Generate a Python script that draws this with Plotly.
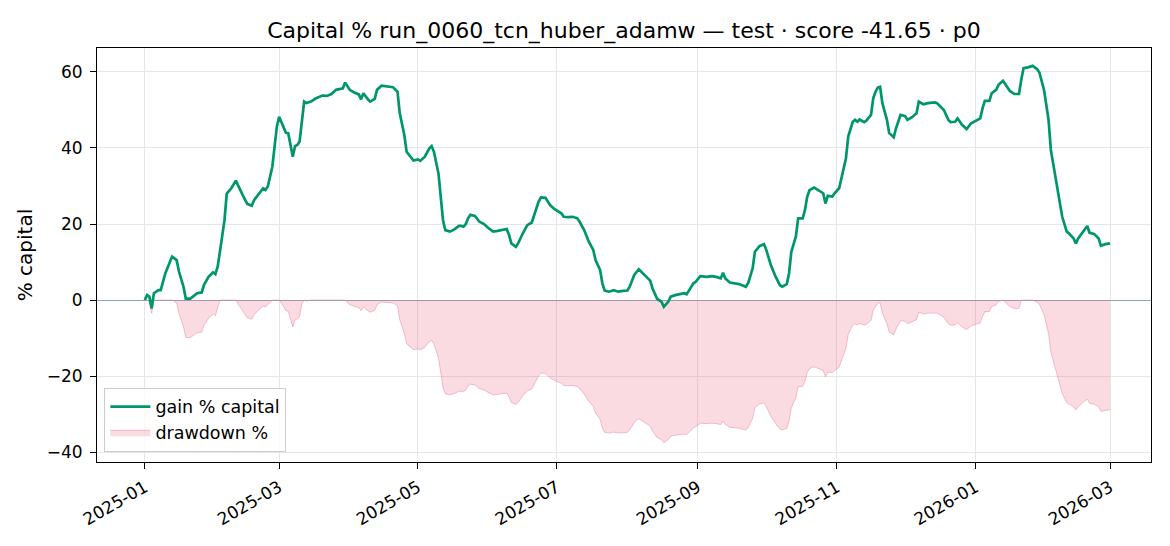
import pandas as pd
import plotly.graph_objects as go

# gain % capital (day offsets from 2025-01-01)
day = [0, 1, 2, 3, 4, 6, 7, 9, 11, 12, 14, 15, 17, 18, 20, 21, 23, 25, 26, 28,
       30, 31, 32, 33, 35, 36, 38, 40, 41, 43, 45, 47, 48, 50, 52, 53, 54, 56, 57, 58,
       59, 61, 62, 63, 64, 65, 66, 67, 68, 69, 70, 71, 73, 75, 78, 80, 82, 84, 87, 88,
       89, 90, 92, 94, 95, 96, 98, 99, 101, 102, 104, 106, 109, 111, 112, 114, 115, 117, 118, 120,
       121, 123, 124, 125, 126, 127, 129, 130, 131, 132, 134, 136, 138, 139, 140, 141, 142, 143, 145, 147,
       149, 151, 153, 155, 157, 159, 160, 161, 163, 164, 166, 168, 170, 171, 173, 174, 176, 178, 180, 183,
       184, 186, 188, 190, 191, 193, 195, 197, 198, 200, 201, 202, 204, 206, 208, 210, 212, 213, 215, 217,
       218, 220, 222, 223, 225, 227, 228, 230, 231, 233, 236, 237, 238, 239, 241, 242, 244, 247, 249, 251,
       253, 254, 255, 257, 259, 261, 264, 265, 267, 268, 270, 272, 273, 275, 277, 279, 280, 282, 283, 284,
       286, 287, 289, 290, 291, 292, 294, 296, 298, 299, 300, 302, 303, 305, 306, 308, 309, 311, 312, 313,
       314, 316, 317, 319, 320, 321, 322, 323, 324, 326, 327, 329, 330, 332, 334, 335, 337, 339, 340, 342,
       344, 347, 348, 350, 351, 353, 354, 356, 357, 359, 361, 363, 365, 367, 368, 369, 371, 372, 374, 375,
       377, 379, 380, 382, 384, 385, 386, 388, 390, 392, 393, 395, 397, 398, 400, 402, 403, 405, 406, 408,
       409, 410, 412, 414, 415, 417, 419, 420, 422, 424]
gain = [0.0, 1.3, 0.9, -2.2, 1.8, 2.6, 2.6, 7.0, 10.0, 11.4, 10.5, 7.5, 3.5, 0.4, 0.4, 0.9, 1.8, 2.0, 4.0, 6.1,
        7.3, 6.8, 8.8, 12.7, 21.0, 28.0, 29.4, 31.4, 30.0, 27.6, 25.3, 24.8, 26.3, 28.0, 29.4, 29.0, 29.8, 35.0, 40.4, 45.6,
        48.2, 45.6, 44.0, 43.9, 40.4, 37.7, 40.5, 40.8, 41.7, 46.7, 52.2, 51.8, 52.2, 53.0, 53.8, 53.7, 54.2, 55.3, 55.7, 57.2,
        56.1, 55.3, 54.6, 54.1, 52.8, 54.4, 52.8, 52.2, 52.9, 55.3, 56.4, 56.3, 56.0, 54.8, 49.1, 43.4, 39.0, 37.5, 36.7, 37.0,
        36.6, 37.7, 38.8, 39.9, 40.5, 39.0, 33.3, 27.2, 21.0, 18.4, 18.0, 18.6, 19.5, 19.5, 19.3, 20.0, 21.5, 22.4, 22.1, 20.6,
        20.0, 18.9, 18.0, 18.2, 18.4, 18.7, 17.1, 14.9, 14.0, 14.9, 17.5, 19.7, 20.4, 22.4, 25.9, 27.0, 26.9, 25.0, 23.9, 22.8,
        21.9, 21.8, 21.9, 21.5, 20.6, 18.4, 15.4, 13.2, 10.5, 7.9, 4.4, 2.5, 2.2, 2.6, 2.2, 2.4, 2.5, 3.5, 6.6, 8.1,
        7.5, 6.1, 5.1, 3.1, 0.4, -0.5, -1.8, -0.4, 0.9, 1.3, 1.8, 1.8, 1.5, 2.6, 4.4, 4.8, 6.3, 6.1, 6.3, 6.1,
        5.7, 7.2, 5.7, 4.6, 4.4, 4.2, 3.5, 4.4, 8.3, 12.7, 14.2, 14.7, 13.2, 9.2, 6.3, 3.9, 3.5, 4.2, 7.0, 12.7,
        16.7, 21.5, 21.5, 23.7, 27.2, 28.9, 29.6, 28.8, 28.1, 25.4, 27.4, 27.2, 28.1, 29.4, 32.0, 37.3, 43.0, 46.9, 47.4, 46.9,
        47.5, 46.8, 47.2, 48.7, 53.1, 54.8, 55.9, 56.1, 51.8, 47.4, 43.9, 42.8, 45.2, 48.7, 48.4, 47.4, 48.1, 49.1, 52.2, 51.5,
        51.8, 52.0, 51.8, 50.7, 50.0, 47.4, 46.8, 46.9, 47.8, 46.1, 45.0, 46.5, 47.2, 47.8, 50.4, 52.4, 52.4, 54.4, 55.3, 56.6,
        57.7, 55.7, 55.0, 54.2, 54.2, 57.9, 61.0, 61.2, 61.6, 60.7, 59.8, 55.3, 47.4, 39.5, 32.5, 25.4, 21.9, 18.0, 17.5, 16.2,
        14.9, 16.2, 18.0, 19.5, 17.7, 17.4, 16.2, 14.3, 14.7, 14.9]

y_ticks = [-40, -20, 0, 20, 40, 60]

dates = pd.Timestamp("2025-01-01") + pd.to_timedelta(day, unit="D")
g = pd.Series(gain)
# drawdown of capital vs running peak
cap = 1 + g / 100
drawdown = (cap / cap.cummax() - 1) * 100

title = "Capital % run_0060_tcn_huber_adamw — test · score -41.65 · p0"

fig = go.Figure()
fig.add_trace(go.Scatter(x=dates, y=drawdown, mode="lines", fill="tozeroy",
                         name="drawdown %", legendrank=2,
                         line=dict(color="rgba(232,120,150,0.45)", width=1),
                         fillcolor="rgba(232,90,125,0.22)"))
fig.add_trace(go.Scatter(x=dates, y=g, mode="lines", name="gain % capital", legendrank=1,
                         line=dict(color="#00966b", width=2.7)))

# page body adds an 8px offset, so margins are trimmed by 8
fig.update_layout(width=1162, height=538, template="plotly_white",
                  margin=dict(l=89, r=19, t=40, b=84),
                  font=dict(family="DejaVu Sans", size=17, color="black"),
                  paper_bgcolor="white", plot_bgcolor="white",
                  title=dict(text=title, x=0.5, xref="paper", y=0.958, yanchor="middle",
                             font=dict(size=22, color="black")),
                  legend=dict(x=0.007, y=0.025, xanchor="left", yanchor="bottom",
                              bgcolor="rgba(255,255,255,0.8)", bordercolor="#cccccc",
                              borderwidth=1, font=dict(size=17.5), itemwidth=40),
                  showlegend=True)
fig.update_xaxes(range=["2024-12-11", "2026-03-19"], tickformat="%Y-%m", dtick="M2",
                 tick0="2025-01-01", tickangle=-30, showgrid=True, gridcolor="#e6e6e6",
                 ticks="outside", ticklen=6, tickcolor="black", ticklabelstandoff=2,
                 showline=True, linecolor="black", linewidth=1, mirror=True, zeroline=False)
fig.update_yaxes(range=[-42.6, 66.3], tickvals=y_ticks, title_text="% capital", title_standoff=8,
                 showgrid=True, gridcolor="#e6e6e6", ticks="outside", ticklen=6, tickcolor="black",
                 ticklabelstandoff=4,
                 showline=True, linecolor="black", linewidth=1, mirror=True,
                 zeroline=True, zerolinecolor="#95a5b5", zerolinewidth=1)

fig.write_html("out.html")
